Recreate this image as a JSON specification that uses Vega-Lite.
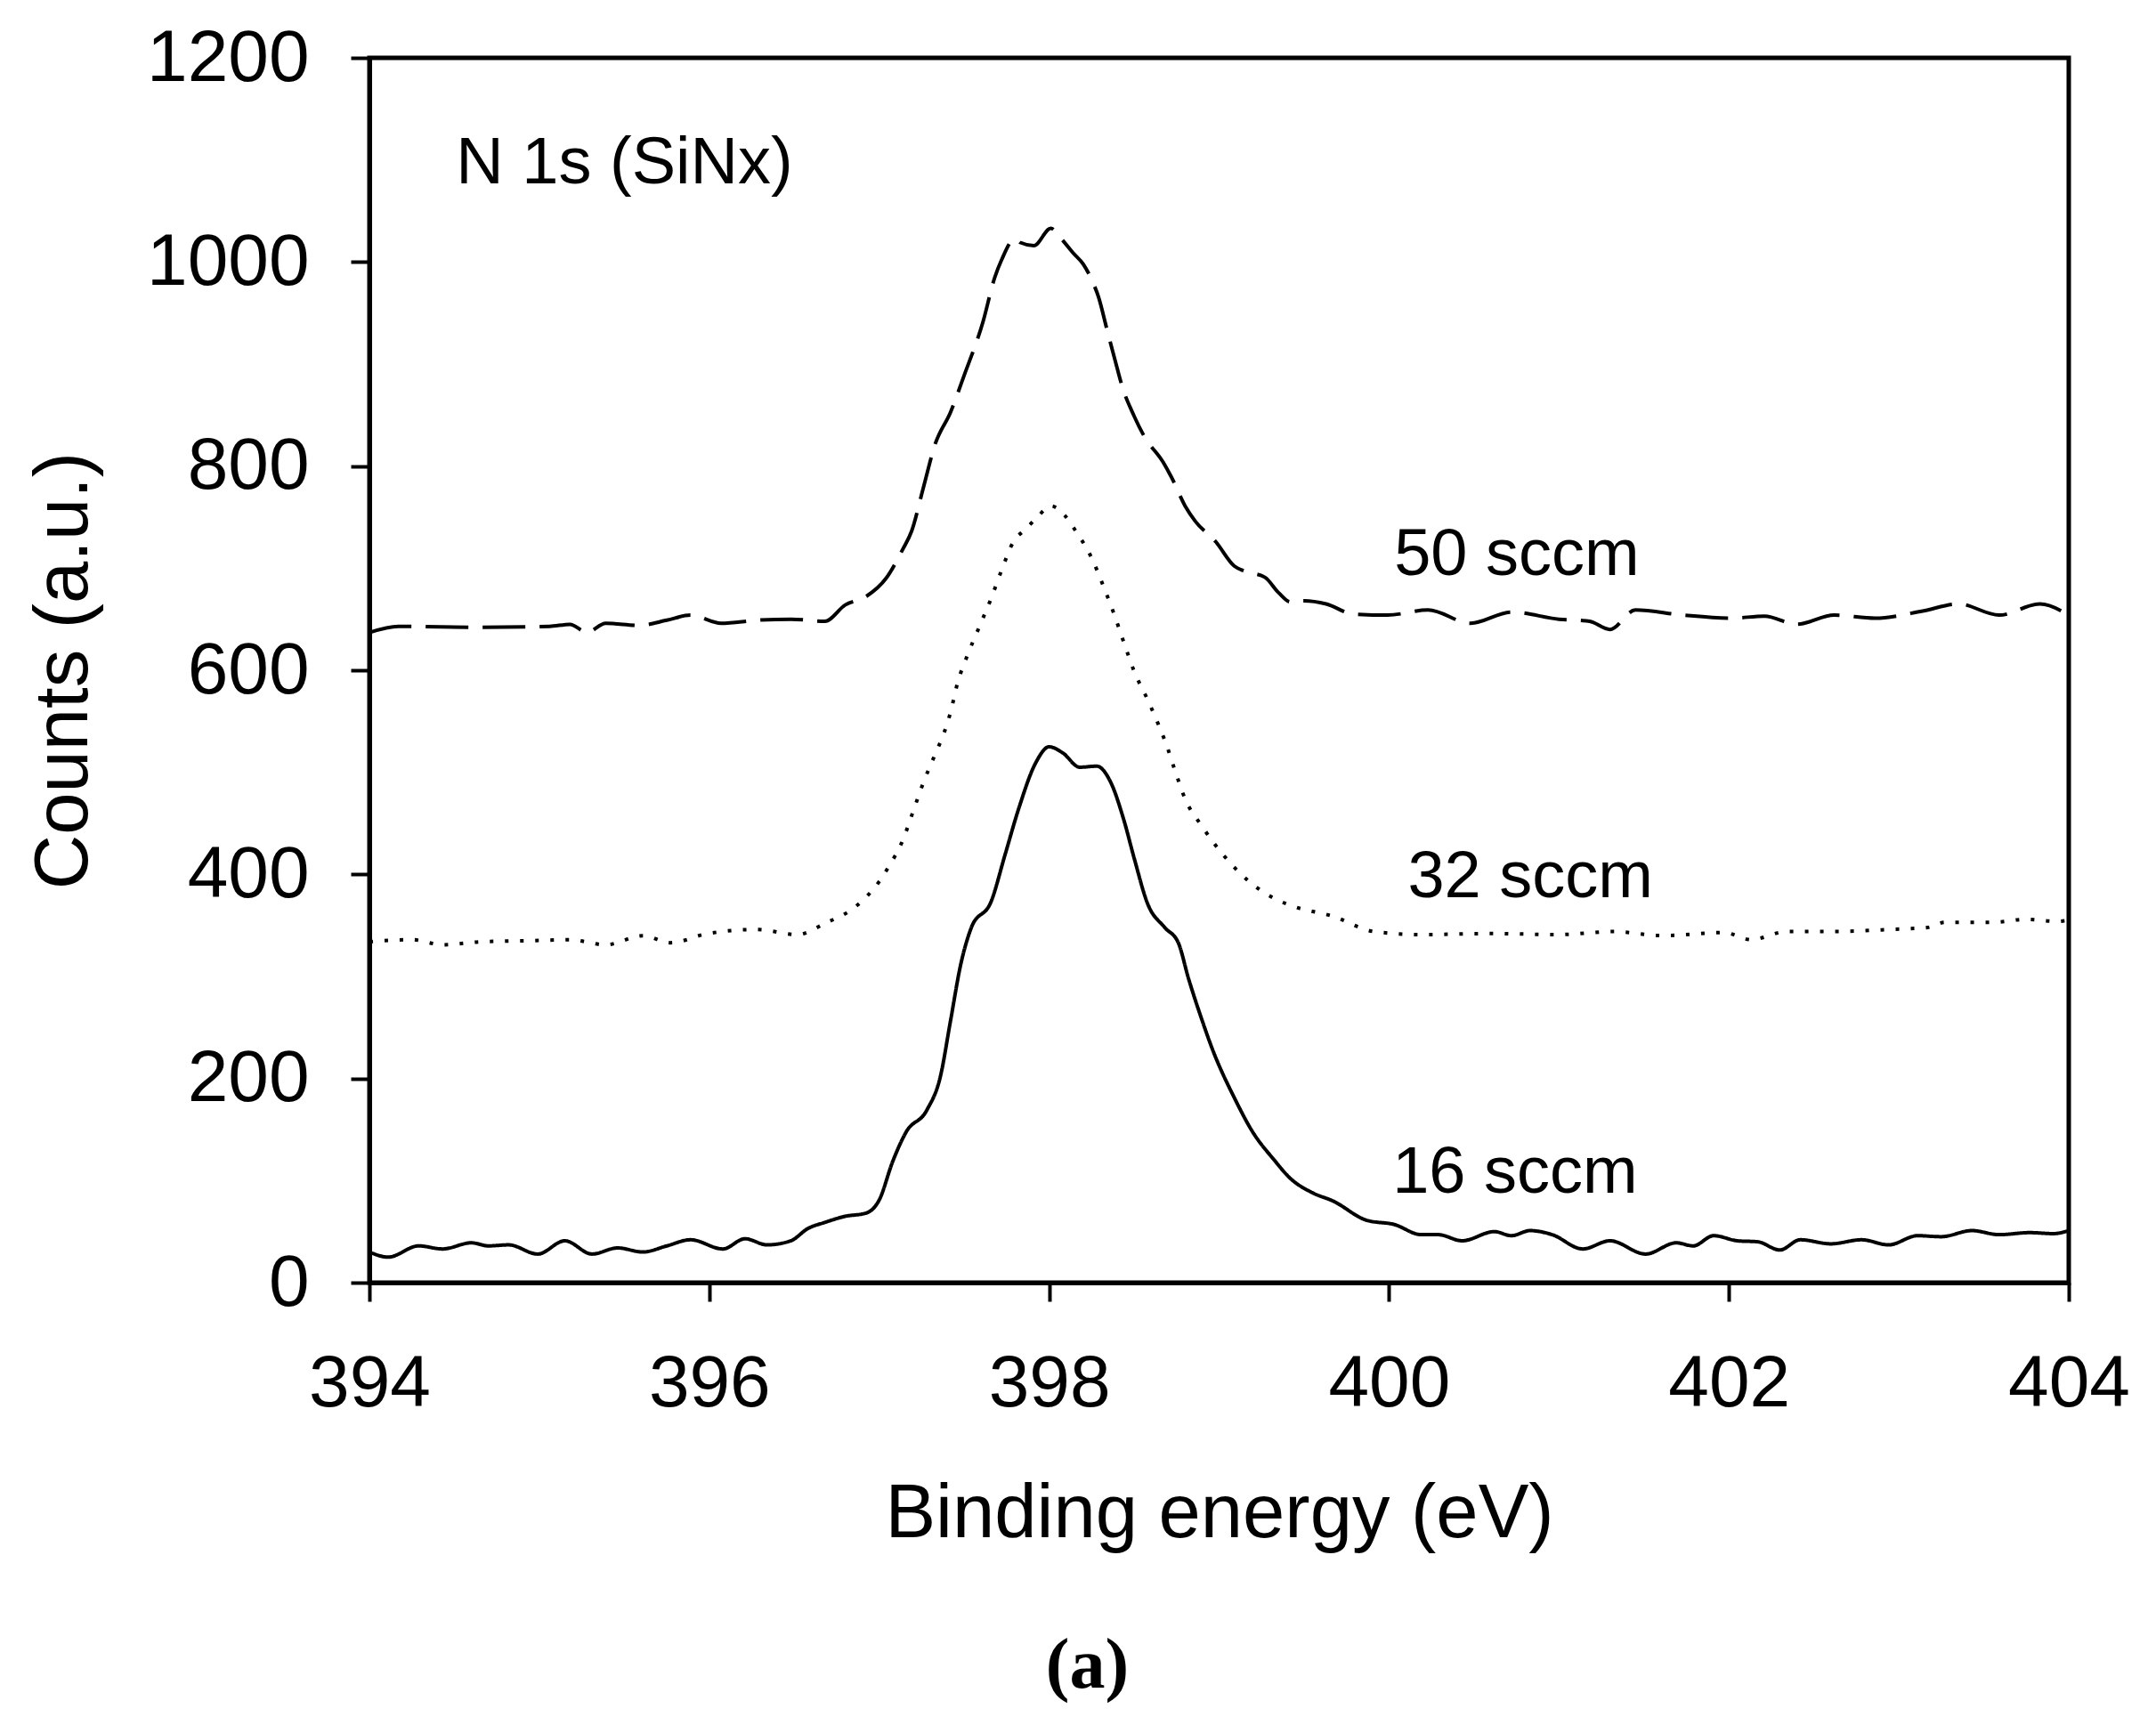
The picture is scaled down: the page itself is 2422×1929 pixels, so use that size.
{
  "$schema": "https://vega.github.io/schema/vega-lite/v6.json",
  "width": 1909,
  "height": 1376,
  "autosize": {"type": "none"},
  "padding": {"left": 415, "top": 65, "right": 98, "bottom": 488},
  "background": "white",
  "config": {
    "font": "Liberation Sans",
    "view": {"stroke": "black", "strokeWidth": 5},
    "axis": {
      "grid": false,
      "domainColor": "black", "domainWidth": 5,
      "tickColor": "black", "tickWidth": 4, "tickSize": 21,
      "labelFont": "Liberation Sans", "labelFontSize": 82, "labelColor": "black", "labelLimit": 0,
      "titleFont": "Liberation Sans", "titleFontSize": 85, "titleFontWeight": "normal", "titleColor": "black", "titleLimit": 0
    }
  },
  "title": {
    "text": "(a)", "orient": "bottom", "anchor": "middle",
    "font": "Liberation Serif", "fontSize": 80, "fontWeight": "bold", "color": "black",
    "dx": -148, "offset": 90
  },
  "datasets": {
    "spectra": [
      {"s":"16 sccm","x":394.00,"y":30},{"s":"16 sccm","x":394.11,"y":25},{"s":"16 sccm","x":394.29,"y":36},{"s":"16 sccm","x":394.43,"y":33},
      {"s":"16 sccm","x":394.60,"y":39},{"s":"16 sccm","x":394.70,"y":36},{"s":"16 sccm","x":394.82,"y":37},{"s":"16 sccm","x":394.99,"y":28},
      {"s":"16 sccm","x":395.15,"y":41},{"s":"16 sccm","x":395.31,"y":28},{"s":"16 sccm","x":395.46,"y":34},{"s":"16 sccm","x":395.61,"y":30},
      {"s":"16 sccm","x":395.75,"y":36},{"s":"16 sccm","x":395.89,"y":42},{"s":"16 sccm","x":396.08,"y":33},{"s":"16 sccm","x":396.21,"y":43},
      {"s":"16 sccm","x":396.34,"y":37},{"s":"16 sccm","x":396.48,"y":41},{"s":"16 sccm","x":396.58,"y":53},{"s":"16 sccm","x":396.68,"y":59},
      {"s":"16 sccm","x":396.80,"y":65},{"s":"16 sccm","x":396.92,"y":68},{"s":"16 sccm","x":397.00,"y":81},{"s":"16 sccm","x":397.08,"y":119},
      {"s":"16 sccm","x":397.16,"y":148},{"s":"16 sccm","x":397.28,"y":169},{"s":"16 sccm","x":397.36,"y":202},{"s":"16 sccm","x":397.42,"y":257},
      {"s":"16 sccm","x":397.48,"y":312},{"s":"16 sccm","x":397.54,"y":347},{"s":"16 sccm","x":397.66,"y":374},{"s":"16 sccm","x":397.74,"y":419},
      {"s":"16 sccm","x":397.82,"y":464},{"s":"16 sccm","x":397.92,"y":509},{"s":"16 sccm","x":398.00,"y":525},{"s":"16 sccm","x":398.08,"y":519},
      {"s":"16 sccm","x":398.18,"y":505},{"s":"16 sccm","x":398.28,"y":506},{"s":"16 sccm","x":398.36,"y":491},{"s":"16 sccm","x":398.44,"y":453},
      {"s":"16 sccm","x":398.50,"y":416},{"s":"16 sccm","x":398.58,"y":371},{"s":"16 sccm","x":398.68,"y":348},{"s":"16 sccm","x":398.76,"y":333},
      {"s":"16 sccm","x":398.82,"y":298},{"s":"16 sccm","x":398.90,"y":257},{"s":"16 sccm","x":398.96,"y":229},{"s":"16 sccm","x":399.09,"y":181},
      {"s":"16 sccm","x":399.20,"y":147},{"s":"16 sccm","x":399.32,"y":121},{"s":"16 sccm","x":399.42,"y":102},{"s":"16 sccm","x":399.55,"y":88},
      {"s":"16 sccm","x":399.67,"y":80},{"s":"16 sccm","x":399.87,"y":61},{"s":"16 sccm","x":400.03,"y":57},{"s":"16 sccm","x":400.19,"y":47},
      {"s":"16 sccm","x":400.29,"y":47},{"s":"16 sccm","x":400.43,"y":41},{"s":"16 sccm","x":400.62,"y":50},{"s":"16 sccm","x":400.72,"y":46},
      {"s":"16 sccm","x":400.83,"y":51},{"s":"16 sccm","x":400.96,"y":47},{"s":"16 sccm","x":401.14,"y":33},{"s":"16 sccm","x":401.30,"y":41},
      {"s":"16 sccm","x":401.51,"y":28},{"s":"16 sccm","x":401.69,"y":39},{"s":"16 sccm","x":401.79,"y":36},{"s":"16 sccm","x":401.91,"y":46},
      {"s":"16 sccm","x":402.05,"y":41},{"s":"16 sccm","x":402.17,"y":40},{"s":"16 sccm","x":402.30,"y":32},{"s":"16 sccm","x":402.42,"y":42},
      {"s":"16 sccm","x":402.60,"y":38},{"s":"16 sccm","x":402.78,"y":42},{"s":"16 sccm","x":402.94,"y":37},{"s":"16 sccm","x":403.11,"y":46},
      {"s":"16 sccm","x":403.25,"y":45},{"s":"16 sccm","x":403.43,"y":51},{"s":"16 sccm","x":403.59,"y":47},{"s":"16 sccm","x":403.77,"y":49},
      {"s":"16 sccm","x":403.91,"y":48},{"s":"16 sccm","x":404.00,"y":51},

      {"s":"32 sccm","x":394.00,"y":334},{"s":"32 sccm","x":394.25,"y":336},{"s":"32 sccm","x":394.43,"y":331},{"s":"32 sccm","x":394.66,"y":334},
      {"s":"32 sccm","x":394.94,"y":335},{"s":"32 sccm","x":395.18,"y":336},{"s":"32 sccm","x":395.39,"y":331},{"s":"32 sccm","x":395.61,"y":340},
      {"s":"32 sccm","x":395.77,"y":333},{"s":"32 sccm","x":395.99,"y":342},{"s":"32 sccm","x":396.28,"y":346},{"s":"32 sccm","x":396.52,"y":341},
      {"s":"32 sccm","x":396.68,"y":352},{"s":"32 sccm","x":396.85,"y":367},{"s":"32 sccm","x":396.93,"y":379},{"s":"32 sccm","x":397.00,"y":393},
      {"s":"32 sccm","x":397.05,"y":406},{"s":"32 sccm","x":397.14,"y":434},{"s":"32 sccm","x":397.20,"y":462},{"s":"32 sccm","x":397.26,"y":490},
      {"s":"32 sccm","x":397.33,"y":518},{"s":"32 sccm","x":397.38,"y":538},{"s":"32 sccm","x":397.42,"y":559},{"s":"32 sccm","x":397.46,"y":587},
      {"s":"32 sccm","x":397.52,"y":615},{"s":"32 sccm","x":397.59,"y":643},{"s":"32 sccm","x":397.66,"y":671},{"s":"32 sccm","x":397.72,"y":698},
      {"s":"32 sccm","x":397.79,"y":726},{"s":"32 sccm","x":397.86,"y":738},{"s":"32 sccm","x":397.93,"y":750},{"s":"32 sccm","x":398.01,"y":761},
      {"s":"32 sccm","x":398.09,"y":752},{"s":"32 sccm","x":398.15,"y":738},{"s":"32 sccm","x":398.25,"y":710},{"s":"32 sccm","x":398.32,"y":682},
      {"s":"32 sccm","x":398.38,"y":656},{"s":"32 sccm","x":398.44,"y":627},{"s":"32 sccm","x":398.50,"y":599},{"s":"32 sccm","x":398.58,"y":571},
      {"s":"32 sccm","x":398.65,"y":544},{"s":"32 sccm","x":398.69,"y":527},{"s":"32 sccm","x":398.74,"y":502},{"s":"32 sccm","x":398.80,"y":474},
      {"s":"32 sccm","x":398.90,"y":447},{"s":"32 sccm","x":399.03,"y":418},{"s":"32 sccm","x":399.17,"y":394},{"s":"32 sccm","x":399.33,"y":376},
      {"s":"32 sccm","x":399.45,"y":368},{"s":"32 sccm","x":399.67,"y":359},{"s":"32 sccm","x":399.91,"y":344},{"s":"32 sccm","x":400.19,"y":341},
      {"s":"32 sccm","x":400.60,"y":342},{"s":"32 sccm","x":401.00,"y":341},{"s":"32 sccm","x":401.32,"y":344},{"s":"32 sccm","x":401.61,"y":340},
      {"s":"32 sccm","x":401.97,"y":343},{"s":"32 sccm","x":402.13,"y":336},{"s":"32 sccm","x":402.34,"y":344},{"s":"32 sccm","x":402.62,"y":344},
      {"s":"32 sccm","x":402.94,"y":346},{"s":"32 sccm","x":403.17,"y":348},{"s":"32 sccm","x":403.27,"y":353},{"s":"32 sccm","x":403.55,"y":353},
      {"s":"32 sccm","x":403.75,"y":356},{"s":"32 sccm","x":403.93,"y":354},{"s":"32 sccm","x":404.00,"y":355},

      {"s":"50 sccm","x":394.00,"y":637},{"s":"50 sccm","x":394.17,"y":643},{"s":"50 sccm","x":394.66,"y":642},{"s":"50 sccm","x":395.06,"y":643},
      {"s":"50 sccm","x":395.18,"y":645},{"s":"50 sccm","x":395.28,"y":637},{"s":"50 sccm","x":395.39,"y":646},{"s":"50 sccm","x":395.59,"y":644},
      {"s":"50 sccm","x":395.75,"y":649},{"s":"50 sccm","x":395.89,"y":654},{"s":"50 sccm","x":396.07,"y":646},{"s":"50 sccm","x":396.28,"y":649},
      {"s":"50 sccm","x":396.48,"y":650},{"s":"50 sccm","x":396.68,"y":648},{"s":"50 sccm","x":396.80,"y":664},{"s":"50 sccm","x":396.92,"y":672},
      {"s":"50 sccm","x":397.04,"y":690},{"s":"50 sccm","x":397.14,"y":719},{"s":"50 sccm","x":397.19,"y":736},{"s":"50 sccm","x":397.26,"y":779},
      {"s":"50 sccm","x":397.33,"y":822},{"s":"50 sccm","x":397.42,"y":853},{"s":"50 sccm","x":397.50,"y":889},{"s":"50 sccm","x":397.61,"y":941},
      {"s":"50 sccm","x":397.68,"y":985},{"s":"50 sccm","x":397.72,"y":1002},{"s":"50 sccm","x":397.80,"y":1023},{"s":"50 sccm","x":397.83,"y":1019},
      {"s":"50 sccm","x":397.91,"y":1016},{"s":"50 sccm","x":398.01,"y":1033},{"s":"50 sccm","x":398.07,"y":1023},{"s":"50 sccm","x":398.14,"y":1009},
      {"s":"50 sccm","x":398.20,"y":998},{"s":"50 sccm","x":398.26,"y":979},{"s":"50 sccm","x":398.29,"y":966},{"s":"50 sccm","x":398.34,"y":934},
      {"s":"50 sccm","x":398.40,"y":896},{"s":"50 sccm","x":398.43,"y":878},{"s":"50 sccm","x":398.50,"y":849},{"s":"50 sccm","x":398.56,"y":829},
      {"s":"50 sccm","x":398.67,"y":804},{"s":"50 sccm","x":398.72,"y":789},{"s":"50 sccm","x":398.80,"y":761},{"s":"50 sccm","x":398.86,"y":746},
      {"s":"50 sccm","x":398.98,"y":726},{"s":"50 sccm","x":399.09,"y":702},{"s":"50 sccm","x":399.15,"y":697},{"s":"50 sccm","x":399.27,"y":691},
      {"s":"50 sccm","x":399.35,"y":676},{"s":"50 sccm","x":399.42,"y":667},{"s":"50 sccm","x":399.50,"y":668},{"s":"50 sccm","x":399.63,"y":665},
      {"s":"50 sccm","x":399.79,"y":655},{"s":"50 sccm","x":399.99,"y":654},{"s":"50 sccm","x":400.23,"y":659},{"s":"50 sccm","x":400.48,"y":646},
      {"s":"50 sccm","x":400.72,"y":657},{"s":"50 sccm","x":401.00,"y":650},{"s":"50 sccm","x":401.18,"y":648},{"s":"50 sccm","x":401.30,"y":640},
      {"s":"50 sccm","x":401.45,"y":659},{"s":"50 sccm","x":401.73,"y":654},{"s":"50 sccm","x":402.01,"y":651},{"s":"50 sccm","x":402.21,"y":653},
      {"s":"50 sccm","x":402.40,"y":645},{"s":"50 sccm","x":402.62,"y":654},{"s":"50 sccm","x":402.86,"y":651},{"s":"50 sccm","x":403.14,"y":658},
      {"s":"50 sccm","x":403.35,"y":665},{"s":"50 sccm","x":403.59,"y":654},{"s":"50 sccm","x":403.83,"y":665},{"s":"50 sccm","x":404.00,"y":654}
    ],
    "labels": [
      {"label":"N 1s (SiNx)","x":394.51,"y":1077},
      {"label":"50 sccm","x":400.03,"y":693},
      {"label":"32 sccm","x":400.11,"y":378},
      {"label":"16 sccm","x":400.02,"y":88}
    ]
  },
  "layer": [
    {
      "data": {"name": "spectra"},
      "mark": {"type": "line", "color": "black", "strokeWidth": 4, "interpolate": "monotone", "strokeCap": "butt"},
      "encoding": {
        "x": {
          "field": "x", "type": "quantitative", "title": "Binding energy (eV)",
          "scale": {"domain": [394, 404], "nice": false, "zero": false},
          "axis": {"values": [394, 396, 398, 400, 402, 404], "format": "d", "labelPadding": 52, "titlePadding": 64, "labelFlush": false}
        },
        "y": {
          "field": "y", "type": "quantitative", "title": "Counts (a.u.)",
          "scale": {"domain": [0, 1200], "nice": false},
          "axis": {"values": [0, 200, 400, 600, 800, 1000, 1200], "format": "d", "labelPadding": 47,
                   "titleX": -318, "titleY": 688, "titleAngle": -90, "titleBaseline": "alphabetic", "titleAlign": "center"}
        },
        "detail": {"field": "s"},
        "strokeDash": {
          "field": "s", "type": "nominal", "legend": null,
          "scale": {"domain": ["16 sccm", "32 sccm", "50 sccm"], "range": [[1, 0], [4, 13], [48, 16]]}
        }
      }
    },
    {
      "data": {"name": "labels"},
      "mark": {"type": "text", "align": "left", "baseline": "alphabetic", "fontSize": 74, "color": "black", "font": "Liberation Sans"},
      "encoding": {
        "x": {"field": "x", "type": "quantitative"},
        "y": {"field": "y", "type": "quantitative"},
        "text": {"field": "label"}
      }
    }
  ]
}
